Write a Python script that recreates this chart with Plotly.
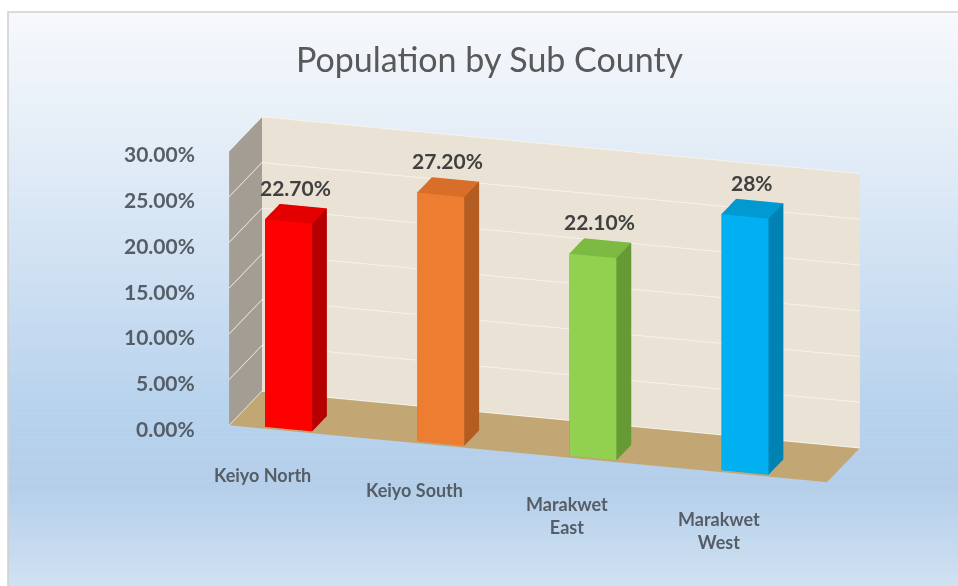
import plotly.graph_objects as go

# Population share by sub county
categories = ["Keiyo North", "Keiyo South", "Marakwet East", "Marakwet West"]
category_labels = ["Keiyo North", "Keiyo South", "Marakwet<br>East", "Marakwet<br>West"]
shares = [0.227, 0.272, 0.221, 0.28]
value_labels = ["22.70%", "27.20%", "22.10%", "28%"]
tick_values = [0.0, 0.05, 0.10, 0.15, 0.20, 0.25, 0.30]
tick_labels = ["0.00%", "5.00%", "10.00%", "15.00%", "20.00%", "25.00%", "30.00%"]

# front / side / top colours for each bar
front_colors = ["#ff0000", "#ed7d31", "#92d050", "#00b0f0"]
side_colors = ["#b40000", "#b35d22", "#659a35", "#0082b3"]
top_colors = ["#e40000", "#d86e27", "#7dba43", "#0099d2"]

HALF_W = 0.155
Y0, Y1 = 0.05, 0.5
X_RANGE = [-0.38, 3.55]
Y_RANGE = [0.0, 1.0]
Z_RANGE = [0.0, 0.30]


def box_mesh(xc, h, front, side, top, name):
    x0, x1 = xc - HALF_W, xc + HALF_W
    xs = [x0, x1, x1, x0, x0, x1, x1, x0]
    ys = [Y0, Y0, Y1, Y1, Y0, Y0, Y1, Y1]
    zs = [0, 0, 0, 0, h, h, h, h]
    faces = [
        (0, 1, 2, side), (0, 2, 3, side),      # bottom
        (4, 5, 6, top), (4, 6, 7, top),        # top
        (0, 1, 5, front), (0, 5, 4, front),    # front
        (3, 2, 6, side), (3, 6, 7, side),      # back
        (0, 3, 7, side), (0, 7, 4, side),      # left
        (1, 2, 6, side), (1, 6, 5, side),      # right
    ]
    return go.Mesh3d(
        x=xs, y=ys, z=zs,
        i=[f[0] for f in faces], j=[f[1] for f in faces], k=[f[2] for f in faces],
        facecolor=[f[3] for f in faces],
        flatshading=True,
        lighting=dict(ambient=1.0, diffuse=0.0, specular=0.0, fresnel=0.0, roughness=1.0),
        hoverinfo="skip",
        name=name,
        showlegend=False,
    )


fig = go.Figure()
for idx, (cat, val) in enumerate(zip(categories, shares)):
    fig.add_trace(box_mesh(idx, val, front_colors[idx], side_colors[idx], top_colors[idx], cat))

# light-blue vertical gradient behind the chart area
stops = [
    (0.00, (247, 249, 252)),
    (0.25, (226, 236, 247)),
    (0.70, (183, 210, 237)),
    (0.83, (181, 207, 234)),
    (1.00, (208, 225, 242)),
]


def grad_color(t):
    for (t0, c0), (t1, c1) in zip(stops[:-1], stops[1:]):
        if t0 <= t <= t1:
            f = (t - t0) / (t1 - t0)
            return "rgb({},{},{})".format(*[round(a + (b - a) * f) for a, b in zip(c0, c1)])
    return "rgb({},{},{})".format(*stops[-1][1])


W, H = 958, 586
left, top = 8 / W, 1 - 12 / H
n_bands = 120
shapes = []
for b in range(n_bands):
    y_hi = top - top * b / n_bands
    y_lo = top - top * (b + 1) / n_bands
    shapes.append(dict(type="rect", xref="paper", yref="paper", x0=left, x1=1.0,
                       y0=y_lo, y1=y_hi + 0.001, line=dict(width=0),
                       fillcolor=grad_color((b + 0.5) / n_bands), layer="below"))
shapes.append(dict(type="rect", xref="paper", yref="paper", x0=left, x1=1.2, y0=-0.2, y1=top,
                   line=dict(color="#d0d0d0", width=1.5), fillcolor="rgba(0,0,0,0)", layer="below"))

FONT = "Lato, Open Sans, sans-serif"
label_font = dict(family=FONT, size=21, color="#404040", weight="bold")
cat_font = dict(family=FONT, size=18, color="#555d66", weight="bold")
tick_font = dict(family=FONT, size=21, color="#555d66", weight="bold")

annotations = []
for idx, (val, txt) in enumerate(zip(shares, value_labels)):
    annotations.append(dict(x=idx, y=(Y0 + Y1) / 2, z=val, text=txt, showarrow=False,
                            font=label_font, yanchor="bottom", yshift=12))
for idx, txt in enumerate(category_labels):
    annotations.append(dict(x=idx, y=Y0, z=0, text=txt, showarrow=False,
                            font=cat_font, yanchor="top", yshift=-33, xshift=-26))
for tv, tl in zip(tick_values, tick_labels):
    annotations.append(dict(x=X_RANGE[0], y=Y_RANGE[0], z=tv, text=tl, showarrow=False,
                            font=tick_font, xanchor="right", xshift=-32, yshift=-3))

axis_common = dict(showticklabels=False, showline=False, zeroline=False, showspikes=False,
                   title=dict(text=""), showbackground=True, ticks="")

SCALE = 1.16
fig.update_layout(
    width=W, height=H,
    margin=dict(l=0, r=0, t=0, b=0),
    paper_bgcolor="white",
    shapes=shapes,
    title=dict(text="Population by Sub County", x=0.511, xanchor="center", y=0.898, yanchor="middle",
               font=dict(family=FONT, size=34, color="#595959")),
    scene=dict(
        domain=dict(x=[0.2, 0.936], y=[0.109, 0.869]),
        bgcolor="rgba(0,0,0,0)",
        aspectmode="manual",
        aspectratio=dict(x=2.42 * SCALE, y=0.44 * SCALE, z=1.12 * SCALE),
        camera=dict(eye=dict(x=0.55, y=-1.82, z=0.63), center=dict(x=0, y=0, z=0),
                    up=dict(x=0, y=0, z=1), projection=dict(type="orthographic")),
        xaxis=dict(range=X_RANGE, showgrid=False, backgroundcolor="#a39d93", **axis_common),
        yaxis=dict(range=Y_RANGE, showgrid=False, backgroundcolor="#e9e2d5", **axis_common),
        zaxis=dict(range=Z_RANGE, tickvals=tick_values, showgrid=True, gridcolor="#f6f3ec",
                   gridwidth=2, backgroundcolor="#c2a775", **axis_common),
        annotations=annotations,
    ),
)

fig.write_html("out.html")
